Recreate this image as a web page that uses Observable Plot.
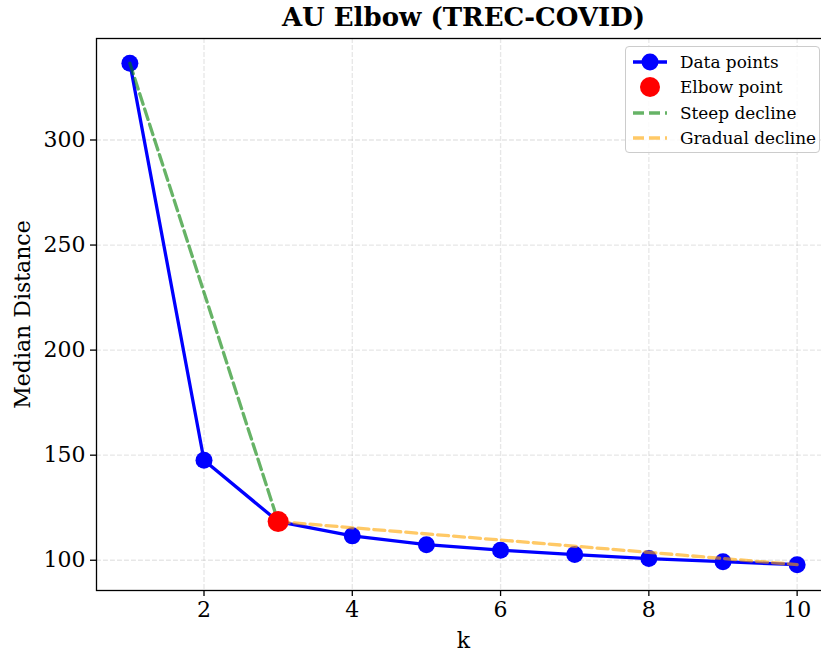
<!DOCTYPE html>
<html><head><meta charset="utf-8">
<script src="https://cdn.jsdelivr.net/npm/d3@7"></script>
<script src="https://cdn.jsdelivr.net/npm/@observablehq/plot@0.6"></script>
<style>
body{margin:0;background:#fff;}
#wrap{position:relative;width:821px;height:652px;overflow:hidden;}
#legend{position:absolute;left:625px;top:46px;width:195px;height:107px;box-sizing:border-box;border:1px solid #cccccc;border-radius:4px;background:rgba(255,255,255,0.85);font-family:"DejaVu Serif";font-size:16.9px;color:#000;}
#legend .row{position:absolute;left:0;height:26px;display:flex;align-items:center;white-space:nowrap;}
#legend svg{display:block;margin-left:6px;margin-right:12px;}
</style></head>
<body><div id="wrap"></div>
<script>
// ---- data ----
const ks = [1, 2, 3, 4, 5, 6, 7, 8, 9, 10];
const medianDistance = [336.5, 147.6, 118.4, 111.6, 107.4, 104.8, 102.7, 100.8, 99.3, 97.9];
const elbowK = 3;
const xTicks = [2, 4, 6, 8, 10];
const yTicks = [100, 150, 200, 250, 300];
const xDomain = [0.55, 10.45];
const yDomain = [85.6, 348.3];
const titleText = "AU Elbow (TREC-COVID)";
const xLabel = "k";
const yLabel = "Median Distance";
const legendLabels = ["Data points", "Elbow point", "Steep decline", "Gradual decline"];

const data = ks.map((k, i) => ({k, d: medianDistance[i]}));
const elbow = data.filter(p => p.k === elbowK);
const steep = [data[0], elbow[0]];
const gradual = [elbow[0], data[data.length - 1]];

const gridStyle = {stroke: "#b0b0b0", strokeOpacity: 0.3, strokeDasharray: "4.9,2.1", strokeWidth: 1.3};

const chart = Plot.plot({
  width: 821,
  height: 652,
  marginLeft: 96,
  marginRight: -9,
  marginTop: 38,
  marginBottom: 62,
  style: {fontFamily: "DejaVu Serif", fontSize: "22px", color: "black", background: "white", overflow: "hidden"},
  x: {domain: xDomain, label: null},
  y: {domain: yDomain, label: null},
  marks: [
    Plot.gridX(xTicks, gridStyle),
    Plot.gridY(yTicks, gridStyle),
    Plot.axisX(xTicks, {tickSize: 6, tickPadding: 5, strokeWidth: 1.3, fontSize: 22, label: null}),
    Plot.axisY(yTicks, {tickSize: 6, tickPadding: 5, strokeWidth: 1.3, fontSize: 22, label: null}),
    Plot.line(data, {x: "k", y: "d", stroke: "blue", strokeWidth: 3.3}),
    Plot.dot(data, {x: "k", y: "d", r: 8.5, fill: "blue"}),
    Plot.line(steep, {x: "k", y: "d", stroke: "green", strokeOpacity: 0.6, strokeWidth: 3.3, strokeDasharray: "11,5"}),
    Plot.line(gradual, {x: "k", y: "d", stroke: "orange", strokeOpacity: 0.6, strokeWidth: 3.3, strokeDasharray: "11,5"}),
    Plot.dot(elbow, {x: "k", y: "d", r: 10.5, fill: "red"}),
    Plot.frame({stroke: "black", strokeWidth: 1.3}),
    Plot.text([titleText], {text: d => d, frameAnchor: "top", lineAnchor: "middle", textAnchor: "middle", dy: -21, fontWeight: "bold", fontSize: 26}),
    Plot.text([xLabel], {text: d => d, frameAnchor: "bottom", lineAnchor: "middle", textAnchor: "middle", dy: 50, fontSize: 22}),
    Plot.text([yLabel], {text: d => d, frameAnchor: "left", lineAnchor: "middle", textAnchor: "middle", dx: -74, rotate: -90, fontSize: 22})
  ]
});
const wrap = document.getElementById("wrap");
wrap.appendChild(chart);

// ---- legend ----
const legend = d3.select(wrap).append("div").attr("id", "legend");
const handles = [
  {line: {stroke: "blue", dash: null}, dot: {fill: "blue", r: 8.5}},
  {line: null, dot: {fill: "red", r: 10}},
  {line: {stroke: "green", dash: "11,5", op: 0.6}, dot: null},
  {line: {stroke: "orange", dash: "11,5", op: 0.6}, dot: null}
];
legendLabels.forEach((lab, i) => {
  const row = legend.append("div").attr("class", "row").style("top", (2 + i * 25.3) + "px");
  const s = row.append("svg").attr("width", 36).attr("height", 26);
  const h = handles[i];
  if (h.line) {
    s.append("line").attr("x1", 1).attr("x2", 35).attr("y1", 13).attr("y2", 13)
      .attr("stroke", h.line.stroke).attr("stroke-width", 3.3)
      .attr("stroke-dasharray", h.line.dash).attr("stroke-opacity", h.line.op || 1);
  }
  if (h.dot) {
    s.append("circle").attr("cx", 18).attr("cy", 13).attr("r", h.dot.r).attr("fill", h.dot.fill);
  }
  row.append("span").text(lab);
});
</script>
</body></html>
